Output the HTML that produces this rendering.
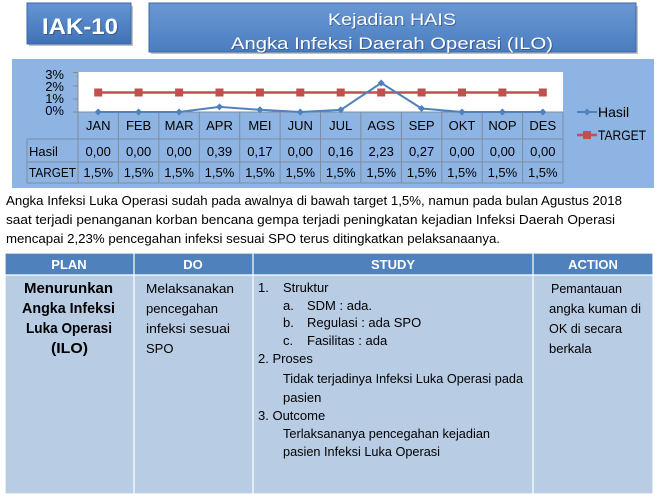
<!DOCTYPE html>
<html><head><meta charset="utf-8"><style>
html,body{margin:0;padding:0;background:#fff;}
svg{display:block;}
text{font-family:"Liberation Sans",sans-serif;}
</style></head><body>
<svg width="661" height="499" viewBox="0 0 661 499" xmlns="http://www.w3.org/2000/svg">
<defs>
<linearGradient id="gb" x1="0" y1="0" x2="0" y2="1">
<stop offset="0" stop-color="#6595D3"/><stop offset="1" stop-color="#3F72B6"/>
</linearGradient>
<linearGradient id="gt" x1="0" y1="0" x2="0" y2="1">
<stop offset="0" stop-color="#6A98D4"/><stop offset="1" stop-color="#4A7DC0"/>
</linearGradient>
</defs>
<rect width="661" height="499" fill="#fff"/>
<!-- header boxes -->
<rect x="29" y="6" width="104" height="40" fill="#9a9a9a" opacity="0.6"/>
<rect x="27" y="3" width="104" height="41" fill="url(#gb)" stroke="#3a68a8" stroke-width="1"/>
<text x="80" y="34" font-size="22" font-weight="bold" fill="#1f3a60" text-anchor="middle" textLength="76" lengthAdjust="spacingAndGlyphs" opacity="0.5" transform="translate(1,1)">IAK-10</text>
<text x="80" y="34" font-size="22" font-weight="bold" fill="#fff" text-anchor="middle" textLength="76" lengthAdjust="spacingAndGlyphs">IAK-10</text>
<rect x="151" y="6" width="487" height="48" fill="#9a9a9a" opacity="0.6"/>
<rect x="149" y="3" width="487" height="49" fill="url(#gt)" stroke="#3a68a8" stroke-width="1"/>
<text x="392" y="25" font-size="17" fill="#1f3a60" opacity="0.5" text-anchor="middle" textLength="128" lengthAdjust="spacingAndGlyphs" transform="translate(1,1)">Kejadian HAIS</text>
<text x="392" y="25" font-size="17" fill="#fff" text-anchor="middle" textLength="128" lengthAdjust="spacingAndGlyphs">Kejadian HAIS</text>
<text x="392" y="49" font-size="17" fill="#1f3a60" opacity="0.5" text-anchor="middle" textLength="322" lengthAdjust="spacingAndGlyphs" transform="translate(1,1)">Angka Infeksi Daerah Operasi (ILO)</text>
<text x="392" y="49" font-size="17" fill="#fff" text-anchor="middle" textLength="322" lengthAdjust="spacingAndGlyphs">Angka Infeksi Daerah Operasi (ILO)</text>

<!-- chart background -->
<rect x="12" y="59" width="642" height="129" fill="#8DB4E2"/>
<rect x="78" y="72" width="485" height="40" fill="#fff"/>
<!-- y ticks -->
<g stroke="#8a8a8a" stroke-width="1">
<line x1="73" y1="72.5" x2="78" y2="72.5"/>
<line x1="73" y1="86" x2="78" y2="86"/>
<line x1="73" y1="99" x2="78" y2="99"/>
<line x1="73" y1="112" x2="78" y2="112"/>
<line x1="78" y1="72" x2="78" y2="112"/>
</g>
<g font-size="13" fill="#000" text-anchor="end">
<text x="64" y="79">3%</text>
<text x="64" y="91">2%</text>
<text x="64" y="103">1%</text>
<text x="64" y="115">0%</text>
</g>

<!-- data table grid -->
<g stroke="#7f8c9c" stroke-width="1" fill="none">
<line x1="78" y1="112" x2="563" y2="112"/>
<line x1="27" y1="139" x2="563" y2="139"/>
<line x1="27" y1="162" x2="563" y2="162"/>
<line x1="27" y1="183" x2="563" y2="183"/>
<line x1="27" y1="139" x2="27" y2="183"/>
<line x1="78" y1="112" x2="78" y2="183"/>
<line x1="118.4" y1="112" x2="118.4" y2="183"/>
<line x1="158.8" y1="112" x2="158.8" y2="183"/>
<line x1="199.3" y1="112" x2="199.3" y2="183"/>
<line x1="239.7" y1="112" x2="239.7" y2="183"/>
<line x1="280.1" y1="112" x2="280.1" y2="183"/>
<line x1="320.5" y1="112" x2="320.5" y2="183"/>
<line x1="360.9" y1="112" x2="360.9" y2="183"/>
<line x1="401.4" y1="112" x2="401.4" y2="183"/>
<line x1="441.8" y1="112" x2="441.8" y2="183"/>
<line x1="482.2" y1="112" x2="482.2" y2="183"/>
<line x1="522.6" y1="112" x2="522.6" y2="183"/>
<line x1="563" y1="112" x2="563" y2="183"/>
</g>
<g font-size="13" fill="#000" text-anchor="middle">
<text x="98.2" y="130">JAN</text><text x="138.6" y="130">FEB</text><text x="179.1" y="130">MAR</text><text x="219.5" y="130">APR</text><text x="259.9" y="130">MEI</text><text x="300.3" y="130">JUN</text><text x="340.7" y="130">JUL</text><text x="381.2" y="130">AGS</text><text x="421.6" y="130">SEP</text><text x="462" y="130">OKT</text><text x="502.4" y="130">NOP</text><text x="542.8" y="130">DES</text>
<text x="98.2" y="156">0,00</text><text x="138.6" y="156">0,00</text><text x="179.1" y="156">0,00</text><text x="219.5" y="156">0,39</text><text x="259.9" y="156">0,17</text><text x="300.3" y="156">0,00</text><text x="340.7" y="156">0,16</text><text x="381.2" y="156">2,23</text><text x="421.6" y="156">0,27</text><text x="462" y="156">0,00</text><text x="502.4" y="156">0,00</text><text x="542.8" y="156">0,00</text>
<text x="98.2" y="177">1,5%</text><text x="138.6" y="177">1,5%</text><text x="179.1" y="177">1,5%</text><text x="219.5" y="177">1,5%</text><text x="259.9" y="177">1,5%</text><text x="300.3" y="177">1,5%</text><text x="340.7" y="177">1,5%</text><text x="381.2" y="177">1,5%</text><text x="421.6" y="177">1,5%</text><text x="462" y="177">1,5%</text><text x="502.4" y="177">1,5%</text><text x="542.8" y="177">1,5%</text>
</g>
<g font-size="13" fill="#000">
<text x="29" y="156">Hasil</text>
<text x="29" y="177" textLength="47" lengthAdjust="spacingAndGlyphs">TARGET</text>
</g>

<!-- series -->
<polyline fill="none" stroke="#C0504D" stroke-width="2.5" points="98.2,92.5 542.8,92.5"/>
<g fill="#C0504D">
<rect x="94.2" y="88.5" width="8" height="8"/><rect x="134.6" y="88.5" width="8" height="8"/><rect x="175.1" y="88.5" width="8" height="8"/><rect x="215.5" y="88.5" width="8" height="8"/><rect x="255.9" y="88.5" width="8" height="8"/><rect x="296.3" y="88.5" width="8" height="8"/><rect x="336.7" y="88.5" width="8" height="8"/><rect x="377.2" y="88.5" width="8" height="8"/><rect x="417.6" y="88.5" width="8" height="8"/><rect x="458" y="88.5" width="8" height="8"/><rect x="498.4" y="88.5" width="8" height="8"/><rect x="538.8" y="88.5" width="8" height="8"/>
</g>
<polyline fill="none" stroke="#4F81BD" stroke-width="2" points="98.2,112 138.6,112 179.1,112 219.5,106.9 259.9,109.8 300.3,112 340.7,109.9 381.2,83 421.6,108.5 462,112 502.4,112 542.8,112"/>
<g fill="#4F81BD">
<path d="M98.2,108.5 l3.5,3.5 l-3.5,3.5 l-3.5,-3.5z"/>
<path d="M138.6,108.5 l3.5,3.5 l-3.5,3.5 l-3.5,-3.5z"/>
<path d="M179.1,108.5 l3.5,3.5 l-3.5,3.5 l-3.5,-3.5z"/>
<path d="M219.5,103.4 l3.5,3.5 l-3.5,3.5 l-3.5,-3.5z"/>
<path d="M259.9,106.3 l3.5,3.5 l-3.5,3.5 l-3.5,-3.5z"/>
<path d="M300.3,108.5 l3.5,3.5 l-3.5,3.5 l-3.5,-3.5z"/>
<path d="M340.7,106.4 l3.5,3.5 l-3.5,3.5 l-3.5,-3.5z"/>
<path d="M381.2,79.5 l3.5,3.5 l-3.5,3.5 l-3.5,-3.5z"/>
<path d="M421.6,105 l3.5,3.5 l-3.5,3.5 l-3.5,-3.5z"/>
<path d="M462,108.5 l3.5,3.5 l-3.5,3.5 l-3.5,-3.5z"/>
<path d="M502.4,108.5 l3.5,3.5 l-3.5,3.5 l-3.5,-3.5z"/>
<path d="M542.8,108.5 l3.5,3.5 l-3.5,3.5 l-3.5,-3.5z"/>
</g>
<!-- legend -->
<line x1="577" y1="112" x2="597" y2="112" stroke="#4F81BD" stroke-width="2"/>
<path d="M587,108.5 l3.5,3.5 l-3.5,3.5 l-3.5,-3.5z" fill="#4F81BD"/>
<text x="598" y="117" font-size="14" fill="#000">Hasil</text>
<line x1="577" y1="135" x2="597" y2="135" stroke="#C0504D" stroke-width="2.5"/>
<rect x="583" y="131" width="8" height="8" fill="#C0504D"/>
<text x="598" y="140" font-size="14" fill="#000" textLength="48" lengthAdjust="spacingAndGlyphs">TARGET</text>

<!-- paragraph -->
<g font-size="13" fill="#000">
<text x="6" y="205" textLength="616" lengthAdjust="spacingAndGlyphs">Angka Infeksi Luka Operasi sudah pada awalnya di bawah target 1,5%,  namun pada bulan Agustus 2018</text>
<text x="6" y="224" textLength="609" lengthAdjust="spacingAndGlyphs">saat terjadi penanganan korban bencana gempa terjadi peningkatan kejadian Infeksi Daerah Operasi</text>
<text x="6" y="243" textLength="494" lengthAdjust="spacingAndGlyphs">mencapai 2,23%  pencegahan infeksi sesuai SPO terus ditingkatkan pelaksanaanya.</text>
</g>

<!-- PDCA table -->
<rect x="5" y="253" width="648" height="22" fill="#4F81BD"/>
<rect x="5" y="275" width="648" height="219" fill="#B8CCE4"/>
<g stroke="#fff" stroke-width="1.2">
<line x1="5" y1="253" x2="653" y2="253"/>
<line x1="5" y1="275" x2="653" y2="275"/>
<line x1="5" y1="494" x2="653" y2="494"/>
<line x1="5" y1="253" x2="5" y2="494"/>
<line x1="134" y1="253" x2="134" y2="494"/>
<line x1="253" y1="253" x2="253" y2="494"/>
<line x1="533" y1="253" x2="533" y2="494"/>
<line x1="653" y1="253" x2="653" y2="494"/>
</g>
<g font-size="13" font-weight="bold" fill="#fff" text-anchor="middle">
<text x="69" y="269">PLAN</text>
<text x="193" y="269">DO</text>
<text x="393" y="269">STUDY</text>
<text x="593" y="269">ACTION</text>
</g>
<g font-size="15" font-weight="bold" fill="#000">
<text x="24" y="293" textLength="89" lengthAdjust="spacingAndGlyphs">Menurunkan</text>
<text x="22" y="313" textLength="93" lengthAdjust="spacingAndGlyphs">Angka Infeksi</text>
<text x="26" y="333" textLength="86" lengthAdjust="spacingAndGlyphs">Luka Operasi</text>
<text x="51" y="353" textLength="37" lengthAdjust="spacingAndGlyphs">(ILO)</text>
</g>
<g font-size="13" fill="#000">
<text x="146" y="293" textLength="88" lengthAdjust="spacingAndGlyphs">Melaksanakan</text>
<text x="146" y="313" textLength="72" lengthAdjust="spacingAndGlyphs">pencegahan</text>
<text x="146" y="333" textLength="84" lengthAdjust="spacingAndGlyphs">infeksi sesuai</text>
<text x="146" y="353">SPO</text>

<text x="551" y="293" textLength="71" lengthAdjust="spacingAndGlyphs">Pemantauan</text>
<text x="549" y="313" textLength="92" lengthAdjust="spacingAndGlyphs">angka kuman di</text>
<text x="549" y="333" textLength="73" lengthAdjust="spacingAndGlyphs">OK di secara</text>
<text x="549" y="353">berkala</text>

<text x="258" y="292">1.</text>
<text x="283" y="292">Struktur</text>
<text x="283" y="310">a.</text>
<text x="307" y="310">SDM : ada.</text>
<text x="283" y="327">b.</text>
<text x="307" y="327">Regulasi : ada SPO</text>
<text x="283" y="345">c.</text>
<text x="307" y="345">Fasilitas : ada</text>
<text x="258" y="363">2. Proses</text>
<text x="283" y="383" textLength="240" lengthAdjust="spacingAndGlyphs">Tidak terjadinya Infeksi Luka Operasi pada</text>
<text x="283" y="402">pasien</text>
<text x="258" y="420">3. Outcome</text>
<text x="283" y="438" textLength="207" lengthAdjust="spacingAndGlyphs">Terlaksananya pencegahan kejadian</text>
<text x="283" y="456" textLength="157" lengthAdjust="spacingAndGlyphs">pasien Infeksi Luka Operasi</text>
</g>
</svg>
</body></html>
